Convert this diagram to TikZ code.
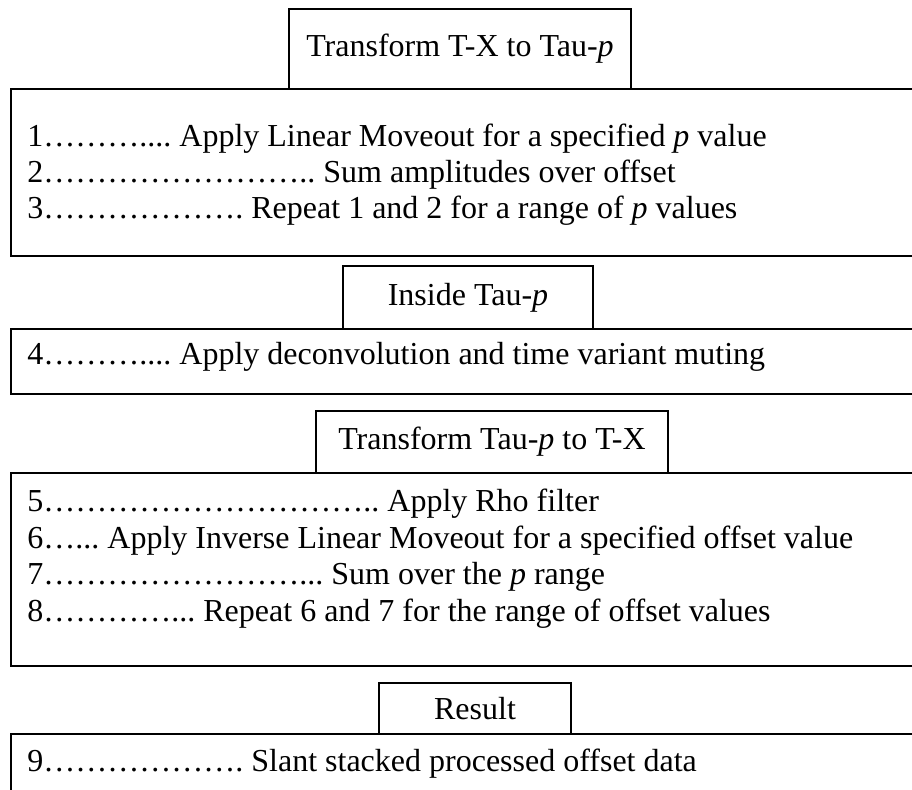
\documentclass[tikz,border=0pt]{standalone}
\usepackage{fontspec}
\setmainfont{Liberation Serif}
\usetikzlibrary{positioning}

\newcommand{\stepfont}{\fontsize{16}{18.4}\selectfont\frenchspacing}

\begin{document}
\begin{tikzpicture}[
  x=0.5pt, y=-0.5pt,
  every node/.style = {font=\stepfont},
  titlebox/.style = {draw, line width=1pt, inner sep=0pt, anchor=north west},
  stagebox/.style = {draw, line width=1pt, inner sep=0pt, anchor=north west,
                     minimum width=460pt},
  stepline/.style = {anchor=base west, inner sep=0pt},
]

% ── Page (boxes run off the right edge) ───────────────────────────────────
\fill[white] (0,0) rectangle (912,789);
\clip (0,0) rectangle (912,789);

% ── Forward transform ─────────────────────────────────────────────────────
\node[titlebox, minimum width=171pt, minimum height=40pt] (fwdTitle)
  at (288,8) {Transform T-X to Tau-\textit{p}};
\node[stagebox, minimum height=83.5pt] (fwdBox) at (10,88) {};

\node[stepline] (s1) at (27,146) {1……….... Apply Linear Moveout for a specified \textit{p} value};
\node[stepline] (s2) at (27,182) {2…………………….. Sum amplitudes over offset};
\node[stepline] (s3) at (27,218) {3………………. Repeat 1 and 2 for a range of \textit{p} values};

% ── Processing in tau-p ───────────────────────────────────────────────────
\node[titlebox, minimum width=125pt, minimum height=31.5pt] (tpTitle)
  at (342,265) {Inside Tau-\textit{p}};
\node[stagebox, minimum height=32.5pt] (tpBox) at (10,328) {};

\node[stepline] (s4) at (27,364) {4……….... Apply deconvolution and time variant muting};

% ── Inverse transform ─────────────────────────────────────────────────────
\node[titlebox, minimum width=176pt, minimum height=31pt] (invTitle)
  at (315,410) {Transform Tau-\textit{p} to T-X};
\node[stagebox, minimum height=96.5pt] (invBox) at (10,472) {};

\node[stepline] (s5) at (27,511) {5………………………….. Apply Rho filter};
\node[stepline] (s6) at (27,548) {6…... Apply Inverse Linear Moveout for a specified offset value};
\node[stepline] (s7) at (27,584) {7……………………... Sum over the \textit{p} range};
\node[stepline] (s8) at (27,621) {8…………... Repeat 6 and 7 for the range of offset values};

% ── Output ────────────────────────────────────────────────────────────────
\node[titlebox, minimum width=96pt, minimum height=25.5pt] (resTitle)
  at (378,682) {Result};
\node[stagebox, minimum height=50pt] (resBox) at (10,733) {};

\node[stepline] (s9) at (27,771) {9………………. Slant stacked processed offset data};

\end{tikzpicture}
\end{document}
